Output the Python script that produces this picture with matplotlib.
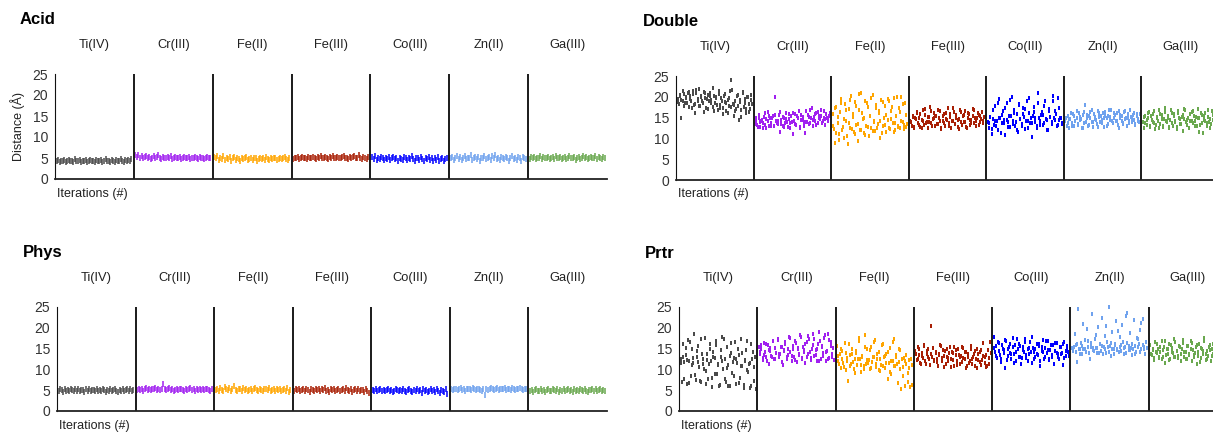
import numpy as np
import matplotlib
matplotlib.use("Agg")
import matplotlib.pyplot as plt
import matplotlib.transforms as mtransforms

plt.rcParams['font.family'] = ['Liberation Sans', 'DejaVu Sans']

metals = ["Ti(IV)", "Cr(III)", "Fe(II)", "Fe(III)", "Co(III)", "Zn(II)", "Ga(III)"]
colors = ["#4a4a4a", "#a020f0", "#ffa500", "#a81f05", "#0000ff", "#6fa2ee", "#6aa84f"]
yticks = [0, 5, 10, 15, 20, 25]

# distance (A) per iteration, one list per metal and environment
acid_ti = [4.3, 4.5, 4.1, 4.4, 4.2, 4.6, 4.0, 4.3, 4.5, 4.2, 4.4, 4.1, 4.7, 4.3, 4.2, 4.5, 4.0, 4.4, 4.3, 4.6, 4.1, 4.2, 4.5, 4.3, 4.4, 4.0, 4.6, 4.2, 4.3, 4.5, 4.1, 4.4, 4.7, 4.2, 4.3, 4.0, 4.5, 4.4, 4.1, 4.6, 4.3, 4.2, 4.8, 4.4, 4.1, 4.5, 4.3, 4.6, 4.2, 4.7]
acid_cr = [5.6, 5.3, 5.8, 5.1, 5.4, 4.9, 5.2, 5.5, 5.0, 5.3, 4.8, 5.1, 5.4, 4.9, 5.2, 5.6, 5.0, 4.7, 5.3, 5.1, 4.9, 5.2, 5.0, 5.4, 4.8, 5.1, 5.3, 4.9, 5.0, 5.2, 4.7, 5.1, 5.3, 4.9, 5.0, 5.2, 4.8, 5.1, 4.9, 5.3, 5.0, 4.8, 5.2, 4.9, 5.1, 4.7, 5.0, 5.2, 4.9, 5.1]
acid_fe2 = [5.3, 4.9, 5.5, 4.6, 5.1, 4.8, 5.4, 4.5, 5.0, 4.7, 5.2, 4.4, 4.9, 5.3, 4.6, 5.0, 4.8, 4.3, 5.1, 4.7, 4.9, 5.2, 4.5, 4.8, 5.0, 4.6, 4.9, 5.1, 4.4, 4.8, 5.0, 4.7, 4.9, 4.5, 5.2, 4.8, 4.6, 5.0, 4.7, 4.9, 5.1, 4.6, 4.8, 5.0, 4.7, 4.9, 5.2, 4.8, 4.6, 5.0]
acid_fe3 = [4.8, 5.1, 4.9, 5.2, 4.7, 5.0, 5.3, 4.9, 5.1, 4.8, 5.2, 5.0, 4.9, 5.3, 5.1, 4.8, 5.2, 5.0, 5.4, 4.9, 5.1, 5.3, 5.0, 4.8, 5.2, 5.1, 5.4, 4.9, 5.0, 5.3, 5.1, 4.9, 5.2, 5.5, 5.0, 5.1, 4.8, 5.3, 5.0, 5.2, 5.4, 4.9, 5.1, 5.6, 5.0, 4.7, 5.2, 5.0, 4.8, 5.3]
acid_co = [5.2, 4.8, 5.4, 4.6, 5.0, 4.7, 5.3, 4.9, 4.5, 5.1, 4.8, 5.2, 4.6, 4.9, 5.3, 4.7, 5.0, 4.4, 5.1, 4.8, 4.6, 5.2, 4.9, 4.5, 5.0, 4.7, 5.4, 4.8, 4.4, 5.1, 4.9, 4.6, 5.3, 4.7, 4.3, 5.0, 4.8, 5.2, 4.5, 4.9, 4.2, 5.1, 4.6, 5.3, 4.4, 4.8, 5.0, 4.3, 4.7, 4.9]
acid_zn = [4.9, 5.3, 4.6, 5.1, 5.5, 4.8, 5.2, 4.5, 5.0, 5.4, 4.7, 5.1, 4.9, 5.6, 4.6, 5.0, 5.3, 4.8, 5.2, 4.4, 5.1, 4.9, 5.5, 4.7, 5.0, 5.2, 4.6, 5.4, 4.9, 5.8, 4.8, 5.1, 4.5, 5.3, 5.0, 4.7, 5.2, 4.9, 4.3, 5.1, 5.4, 4.8, 5.0, 4.6, 5.3, 4.9, 4.4, 5.2, 5.0, 4.7]
acid_ga = [4.8, 5.2, 4.9, 5.3, 4.7, 5.1, 5.0, 5.4, 4.8, 5.2, 4.9, 5.1, 5.3, 4.7, 5.0, 5.2, 4.8, 5.4, 5.1, 4.9, 5.2, 4.7, 5.0, 5.3, 4.8, 5.1, 5.5, 4.9, 5.0, 5.2, 4.6, 5.1, 5.3, 4.8, 5.0, 5.4, 4.9, 5.2, 4.7, 5.1, 5.3, 4.9, 5.0, 5.5, 4.8, 5.2, 5.0, 4.7, 5.3, 5.1]

dbl_ti = [19.5, 18.2, 20.1, 15.0, 19.0, 20.6, 18.5, 19.8, 21.0, 17.6, 20.3, 19.1, 21.5, 18.0, 16.0, 20.8, 19.4, 21.8, 17.8, 20.0, 18.6, 21.2, 19.7, 17.2, 20.5, 18.9, 21.0, 19.3, 17.5, 20.2, 18.4, 19.9, 16.9, 20.7, 18.1, 19.6, 17.4, 20.1, 18.8, 16.5, 19.2, 17.9, 21.3, 24.0, 18.3, 15.5, 19.0, 17.1, 20.4, 14.5, 18.7, 16.8, 21.0, 17.6, 19.5, 16.2, 20.0, 18.2, 17.0, 19.3]
dbl_ti_run2 = [18.8, 20.4, 19.2, 21.4, 17.9, 20.0, 18.6, 21.1, 19.5, 17.3, 20.7, 18.2, 21.6, 19.0, 17.7, 20.3, 18.9, 16.4, 20.9, 19.4, 17.0, 20.1, 18.5, 22.2, 16.7, 19.8, 18.0, 21.5, 17.2, 19.1, 15.8, 20.6, 18.4, 16.1, 19.7, 17.5, 21.7, 18.1, 16.6, 20.2, 17.8, 19.3, 15.2, 21.2, 18.6, 17.0, 19.9, 16.3, 20.5, 18.3]
dbl_cr = [13.5, 14.8, 12.8, 15.6, 13.9, 14.2, 12.6, 15.1, 13.3, 14.6, 16.3, 13.0, 14.9, 13.7, 15.4, 12.9, 20.0, 14.1, 13.4, 15.7, 11.5, 14.4, 13.1, 15.0, 13.8, 16.1, 12.7, 14.7, 13.6, 15.3, 11.0, 14.3, 15.8, 13.2, 14.9, 16.6, 12.8, 14.5, 15.2, 13.9, 11.2, 14.0, 15.6, 13.5, 16.8, 14.8, 12.9, 15.1, 14.2, 16.0, 13.7, 15.5, 14.6, 16.9, 14.1, 15.0, 13.3, 15.9, 14.7, 15.4]
dbl_cr_run2 = [14.1, 13.2, 15.0, 12.7, 14.5, 13.8, 16.0, 12.5, 14.3, 15.4, 13.0, 14.8, 12.9, 15.7, 13.6, 14.2, 16.4, 13.4, 15.1, 12.8, 14.6, 13.9, 15.9, 12.6, 14.0, 16.2, 13.5, 15.3, 14.9, 12.5, 15.6, 14.4, 13.1, 16.5, 14.0, 15.2, 13.7, 17.2, 14.5, 15.8, 13.2, 16.3, 14.9, 15.5, 13.8, 16.7, 14.6, 15.0, 14.2, 16.1]
dbl_fe2 = [15.8, 12.2, 9.0, 17.5, 13.6, 11.0, 16.4, 19.5, 12.8, 10.2, 18.3, 14.1, 8.6, 17.0, 12.4, 20.2, 15.2, 11.6, 18.8, 13.3, 9.4, 16.8, 12.0, 21.0, 14.7, 11.2, 19.0, 13.0, 17.6, 10.6, 15.5, 12.6, 20.4, 14.2, 11.8, 18.1, 13.4, 16.2, 10.0, 19.3, 12.9, 15.0, 17.8, 11.5, 14.4, 18.9, 12.3, 16.6, 13.8, 19.8, 11.9, 15.3, 13.1, 17.2, 12.5, 20.0, 14.0, 13.2, 18.5, 12.7]
dbl_fe2_run2 = [13.0, 17.2, 11.4, 15.1, 9.6, 18.6, 12.1, 14.6, 16.9, 10.5, 13.7, 19.2, 12.2, 15.9, 11.1, 17.7, 13.5, 20.6, 12.0, 16.0, 14.8, 10.9, 18.4, 12.7, 15.4, 19.6, 11.7, 13.9, 17.3, 12.4, 16.5, 14.3, 11.3, 18.7, 13.2, 15.7, 19.4, 12.6, 14.6, 17.5, 11.6, 13.6, 19.9, 12.8, 16.3, 14.1, 18.2, 12.2, 15.6, 13.4]
dbl_fe3 = [14.2, 13.1, 15.5, 12.4, 14.8, 16.2, 13.6, 15.0, 12.8, 14.4, 16.8, 13.3, 15.7, 14.0, 12.5, 15.2, 17.5, 13.8, 14.6, 16.0, 12.9, 15.4, 13.5, 14.9, 16.5, 12.2, 14.1, 15.8, 13.0, 14.7, 17.2, 13.7, 15.1, 12.6, 14.3, 16.3, 13.4, 15.6, 14.5, 12.3, 16.9, 13.9, 15.3, 14.0, 16.6, 12.7, 14.8, 15.9, 13.2, 14.4, 17.0, 13.6, 15.0, 14.2, 16.1, 13.3, 15.5, 14.6, 13.8, 15.2]
dbl_fe3_run2 = [13.9, 15.2, 12.7, 14.6, 16.4, 13.2, 15.8, 12.5, 14.3, 17.0, 13.6, 15.1, 14.0, 16.6, 12.9, 14.8, 15.5, 13.4, 16.9, 14.2, 12.6, 15.3, 13.8, 16.2, 14.5, 13.0, 15.9, 14.1, 17.3, 13.5, 15.0, 12.8, 14.7, 16.4, 13.3, 15.6, 14.0, 12.4, 16.0, 14.4, 13.7, 15.4, 16.8, 13.1, 14.9, 15.7, 13.9, 16.3, 14.3, 15.1]
dbl_co = [14.0, 12.5, 15.2, 11.0, 14.6, 13.3, 17.8, 14.1, 12.0, 19.4, 15.0, 13.6, 16.5, 14.4, 10.8, 18.6, 13.9, 15.5, 12.8, 19.9, 14.2, 16.8, 13.1, 15.8, 11.6, 18.2, 14.7, 13.4, 17.2, 15.1, 12.3, 19.0, 14.3, 16.0, 13.7, 10.3, 15.4, 17.6, 14.0, 12.6, 20.8, 14.9, 13.2, 16.3, 15.6, 13.8, 18.9, 14.5, 12.1, 17.0, 15.2, 13.5, 20.2, 14.8, 16.6, 13.0, 19.6, 14.4, 15.0, 13.6]
dbl_co_run2 = [13.6, 15.1, 12.2, 16.9, 14.3, 13.0, 18.4, 14.8, 11.4, 15.7, 13.8, 17.4, 14.5, 12.7, 19.2, 15.3, 13.4, 16.1, 14.0, 11.9, 18.0, 14.6, 13.1, 15.9, 17.1, 14.2, 12.4, 19.6, 15.0, 13.7, 16.4, 14.9, 12.9, 18.5, 14.1, 15.6, 13.3, 17.9, 14.7, 12.0, 16.7, 15.2, 13.9, 19.1, 14.4, 15.8, 13.2, 17.3, 14.8, 13.5]
dbl_zn = [14.2, 13.0, 15.3, 12.4, 14.7, 13.6, 15.8, 12.9, 14.1, 15.0, 13.3, 16.1, 14.5, 12.6, 15.6, 13.8, 18.0, 14.9, 13.1, 15.4, 16.4, 14.0, 12.8, 15.9, 14.6, 13.5, 16.7, 15.1, 13.9, 14.4, 16.2, 12.7, 15.5, 14.8, 13.4, 16.9, 15.2, 14.3, 13.7, 16.0, 15.7, 14.1, 13.2, 16.5, 14.9, 15.3, 13.6, 16.3, 14.6, 12.9, 15.0, 14.2, 16.8, 13.9, 15.6, 14.4, 13.3, 15.9, 14.7, 14.0]
dbl_zn_run2 = [15.0, 13.8, 14.6, 16.0, 12.9, 15.4, 14.2, 16.6, 13.5, 15.1, 14.7, 12.5, 16.3, 14.0, 15.7, 13.2, 14.9, 16.8, 13.9, 15.2, 14.4, 12.8, 16.1, 15.5, 13.6, 14.8, 16.4, 13.1, 15.3, 14.5, 16.9, 13.7, 15.0, 14.1, 16.2, 12.6, 15.6, 14.3, 13.4, 16.5, 14.9, 15.8, 13.8, 15.1, 14.6, 16.0, 13.5, 15.4, 14.2, 15.9]
dbl_ga = [14.0, 12.6, 15.4, 13.2, 14.8, 16.3, 12.9, 14.5, 15.9, 13.6, 12.2, 15.1, 14.2, 16.8, 13.4, 15.6, 12.8, 14.7, 17.2, 13.9, 15.3, 12.5, 14.4, 16.1, 13.1, 15.8, 14.0, 12.7, 16.5, 14.9, 13.5, 15.2, 11.8, 14.6, 16.9, 13.3, 15.0, 12.4, 14.3, 16.4, 13.8, 15.5, 14.1, 12.9, 17.0, 14.8, 13.2, 15.7, 11.4, 14.5, 16.0, 13.6, 15.2, 14.0, 12.6, 16.6, 14.4, 13.7, 15.4, 14.9]
dbl_ga_run2 = [15.2, 13.7, 14.4, 16.1, 12.8, 15.5, 14.0, 16.7, 13.3, 14.9, 12.4, 15.8, 14.6, 13.1, 16.4, 14.2, 15.0, 12.7, 16.9, 13.8, 15.3, 14.1, 12.3, 16.2, 14.7, 13.5, 15.6, 17.1, 13.9, 14.5, 12.6, 15.9, 14.3, 16.6, 13.0, 15.1, 14.8, 11.6, 16.0, 13.6, 15.4, 14.2, 12.9, 16.8, 14.6, 13.4, 15.7, 14.0, 16.3, 13.8]

phys_ti = [4.8, 5.2, 5.0, 4.6, 5.3, 4.9, 5.1, 4.7, 5.4, 5.0, 4.8, 5.2, 4.9, 5.3, 4.7, 5.0, 5.1, 4.6, 5.2, 4.9, 5.4, 4.8, 5.0, 5.1, 4.7, 5.3, 4.9, 5.0, 4.8, 5.2, 5.0, 4.6, 5.1, 4.9, 5.3, 4.7, 5.0, 5.2, 4.8, 4.6, 5.1, 4.9, 5.3, 4.7, 5.0, 5.2, 4.8, 5.4, 4.9, 5.1]
phys_cr = [5.0, 5.3, 5.1, 5.4, 4.9, 5.2, 5.5, 5.1, 5.3, 5.0, 5.2, 5.4, 5.6, 5.1, 5.3, 5.0, 5.2, 6.4, 5.4, 5.1, 5.3, 5.5, 5.0, 5.2, 4.9, 5.1, 5.3, 5.0, 5.2, 5.4, 5.1, 4.8, 5.3, 5.0, 5.2, 5.5, 5.1, 5.3, 4.9, 5.2, 5.0, 5.4, 5.1, 5.3, 5.0, 5.2, 5.4, 5.1, 4.9, 5.2]
phys_fe2 = [5.0, 5.4, 4.7, 5.6, 5.1, 4.9, 5.8, 5.3, 5.0, 5.5, 4.8, 5.2, 6.0, 5.1, 4.9, 5.4, 5.2, 4.7, 5.5, 5.0, 5.3, 4.8, 5.1, 5.4, 4.9, 5.2, 5.6, 5.0, 4.8, 5.3, 5.1, 4.9, 5.4, 5.2, 5.0, 5.5, 4.8, 5.1, 5.3, 4.9, 5.2, 5.0, 5.4, 4.7, 5.1, 5.3, 4.9, 5.5, 4.6, 5.0]
phys_fe3 = [4.9, 5.2, 5.0, 5.3, 4.8, 5.1, 5.4, 4.9, 5.2, 5.0, 4.6, 5.3, 5.1, 4.8, 5.4, 5.0, 5.2, 4.7, 5.3, 5.0, 5.5, 4.9, 5.1, 4.6, 5.2, 5.0, 5.4, 4.8, 5.1, 5.3, 4.7, 5.0, 5.2, 4.9, 5.5, 5.1, 4.8, 5.3, 4.6, 5.0, 5.2, 4.9, 5.4, 4.7, 5.1, 5.0, 4.5, 5.3, 4.8, 4.4]
phys_co = [5.1, 4.9, 5.2, 4.8, 5.0, 5.3, 4.9, 5.1, 4.7, 5.0, 5.2, 4.8, 5.1, 4.6, 4.9, 5.2, 5.0, 4.8, 5.1, 4.7, 5.3, 4.9, 4.6, 5.0, 5.2, 4.8, 4.5, 5.1, 4.9, 5.3, 4.7, 5.0, 4.4, 5.2, 4.8, 5.1, 4.6, 4.9, 5.3, 4.7, 5.0, 4.5, 5.2, 4.8, 4.3, 5.1, 4.9, 4.6, 5.2, 4.2]
phys_zn = [5.3, 5.1, 5.4, 5.2, 5.0, 5.3, 5.5, 5.1, 5.2, 4.9, 5.4, 5.2, 5.3, 5.0, 5.5, 5.2, 5.1, 5.4, 5.3, 5.0, 4.9, 5.2, 3.9, 5.3, 5.1, 5.4, 5.6, 5.2, 5.0, 5.3, 5.5, 5.1, 5.4, 5.2, 5.3, 5.6, 5.1, 5.4, 5.2, 5.0, 5.5, 5.3, 5.1, 5.4, 5.2, 5.6, 5.3, 5.1, 5.4, 5.2]
phys_ga = [4.8, 5.1, 4.6, 5.0, 5.2, 4.7, 4.9, 5.3, 4.8, 5.1, 4.5, 5.0, 5.2, 4.9, 4.7, 5.3, 5.0, 4.8, 5.2, 4.6, 5.1, 4.9, 5.4, 4.7, 5.0, 5.2, 4.8, 5.1, 4.6, 5.3, 4.9, 5.0, 4.7, 5.2, 5.1, 4.8, 5.4, 4.9, 4.6, 5.1, 5.0, 5.3, 4.7, 5.2, 4.9, 5.0, 5.4, 4.8, 5.1, 4.9]

prt_ti = [12.5, 7.0, 16.2, 11.8, 13.4, 6.6, 17.0, 12.0, 8.3, 14.8, 11.5, 18.4, 7.4, 12.9, 15.6, 10.6, 6.9, 13.8, 11.2, 17.6, 9.5, 12.3, 7.8, 15.0, 11.9, 5.8, 14.2, 12.7, 16.8, 8.8, 11.4, 6.2, 13.1, 17.9, 10.2, 12.4, 7.0, 15.4, 11.0, 5.9, 14.0, 9.2, 12.8, 16.5, 6.5, 11.6, 13.5, 8.0, 17.2, 10.8, 6.3, 12.2, 14.6, 9.8, 11.3, 5.5, 16.0, 12.6, 7.2, 13.0]
prt_ti_run2 = [11.6, 13.0, 7.6, 15.2, 12.2, 6.8, 16.6, 11.0, 12.8, 8.6, 14.4, 11.8, 7.2, 17.4, 12.5, 10.0, 6.4, 13.6, 11.4, 16.0, 8.0, 12.9, 9.0, 15.8, 11.1, 6.0, 14.6, 12.1, 17.3, 7.8, 10.4, 5.9, 13.3, 16.4, 11.7, 8.4, 12.6, 15.0, 6.7, 10.9, 13.9, 5.6, 12.0, 16.8, 9.4, 11.5, 6.1, 14.2, 10.6, 5.2]
prt_cr = [15.5, 13.6, 14.8, 12.2, 16.4, 14.1, 13.0, 15.9, 11.4, 14.5, 13.3, 16.8, 12.6, 15.1, 14.0, 17.4, 12.9, 13.8, 15.4, 11.0, 14.6, 16.2, 12.4, 13.5, 17.8, 14.3, 12.0, 15.7, 13.1, 16.9, 11.8, 14.9, 13.4, 18.2, 12.7, 15.3, 14.2, 11.6, 16.5, 13.7, 17.2, 12.3, 15.0, 18.6, 13.2, 14.7, 11.9, 16.0, 18.9, 12.5, 15.6, 13.9, 17.6, 12.1, 14.4, 18.4, 12.8, 16.7, 13.0, 15.2]
prt_cr_run2 = [14.2, 15.8, 12.8, 13.5, 16.1, 12.0, 14.7, 15.2, 13.1, 16.9, 12.5, 14.0, 17.1, 13.6, 15.5, 11.7, 14.4, 16.6, 12.9, 15.0, 17.5, 13.3, 14.8, 12.2, 16.3, 15.1, 13.8, 17.9, 12.4, 14.6, 16.0, 13.0, 18.0, 14.3, 12.7, 15.9, 17.2, 13.4, 14.9, 12.1, 16.8, 15.4, 13.2, 18.3, 14.1, 12.6, 17.0, 15.7, 13.6, 12.3]
prt_fe2 = [15.6, 12.0, 13.8, 10.4, 14.5, 11.6, 16.4, 9.8, 12.8, 7.2, 13.5, 11.2, 15.0, 10.0, 12.4, 14.0, 11.0, 16.9, 12.6, 9.4, 13.2, 10.8, 18.2, 11.4, 14.8, 12.2, 10.2, 15.5, 11.8, 13.0, 17.0, 10.6, 12.5, 14.2, 9.6, 11.1, 16.2, 12.9, 10.3, 13.6, 7.6, 11.5, 15.2, 9.0, 12.1, 17.2, 10.9, 13.4, 6.8, 11.7, 14.6, 5.4, 10.5, 12.7, 6.0, 11.3, 9.2, 12.3, 5.8, 11.0]
prt_fe2_run2 = [13.2, 11.4, 15.0, 12.6, 10.6, 14.0, 12.0, 16.2, 10.9, 13.7, 11.8, 9.2, 14.4, 12.4, 17.6, 11.0, 13.1, 10.1, 15.4, 12.2, 11.5, 14.7, 10.4, 12.9, 16.5, 11.2, 13.8, 9.9, 12.5, 15.8, 10.8, 13.3, 11.6, 14.1, 9.4, 12.1, 16.6, 10.7, 13.0, 11.3, 14.9, 10.0, 12.6, 8.4, 11.9, 13.5, 7.0, 10.3, 12.4, 6.2]
prt_fe3 = [14.5, 12.2, 15.3, 13.4, 11.6, 14.0, 12.8, 15.8, 11.2, 13.6, 14.8, 12.4, 20.5, 13.0, 15.1, 11.9, 14.3, 12.6, 10.8, 13.8, 15.6, 12.1, 14.6, 13.2, 11.4, 15.0, 12.7, 13.9, 10.5, 14.2, 12.3, 15.5, 13.5, 11.0, 14.9, 12.9, 13.3, 11.7, 15.2, 12.5, 14.1, 10.7, 13.7, 12.0, 15.7, 11.3, 13.1, 14.4, 12.6, 10.4, 13.6, 11.8, 14.7, 12.2, 16.3, 11.5, 13.4, 10.9, 12.8, 16.5]
prt_fe3_run2 = [13.8, 12.5, 14.9, 11.4, 13.2, 15.6, 12.0, 14.4, 12.9, 11.1, 13.6, 15.1, 12.3, 14.0, 11.7, 13.4, 15.9, 12.7, 10.6, 14.5, 13.1, 11.9, 15.3, 12.4, 13.9, 10.9, 14.7, 12.1, 13.5, 11.3, 15.4, 12.8, 14.2, 10.3, 13.0, 11.6, 14.8, 12.6, 13.7, 10.8, 15.0, 12.2, 14.3, 11.0, 13.3, 12.9, 10.5, 14.6, 11.4, 13.9]
prt_co = [17.8, 14.2, 15.6, 12.8, 16.4, 13.5, 11.8, 15.0, 14.6, 10.4, 16.9, 13.2, 15.3, 14.0, 12.4, 17.6, 13.8, 15.8, 12.1, 14.8, 16.2, 13.0, 11.2, 15.4, 14.3, 17.2, 12.7, 14.9, 13.6, 16.6, 11.6, 15.2, 14.1, 12.9, 16.0, 13.4, 15.7, 10.8, 14.5, 17.0, 12.5, 15.1, 13.9, 16.8, 12.2, 14.7, 13.1, 15.9, 11.4, 14.4, 16.3, 13.7, 12.6, 15.5, 14.0, 11.0, 16.5, 13.3, 15.0, 14.2]
prt_co_run2 = [15.1, 13.3, 16.7, 14.4, 12.5, 15.9, 13.9, 17.1, 12.2, 14.8, 16.2, 13.6, 15.4, 11.5, 14.1, 17.4, 13.0, 15.7, 12.8, 14.6, 16.5, 13.4, 11.9, 15.2, 14.3, 17.7, 12.6, 14.9, 13.7, 16.1, 12.0, 15.5, 14.2, 13.1, 16.9, 14.7, 12.4, 15.8, 13.5, 11.3, 16.4, 14.0, 12.9, 15.3, 13.8, 16.0, 12.7, 14.5, 15.6, 13.2]
prt_zn = [15.2, 14.4, 18.5, 15.8, 11.8, 24.5, 14.9, 16.3, 13.6, 21.0, 15.0, 14.2, 19.6, 16.8, 12.6, 15.5, 23.2, 14.7, 17.4, 15.1, 13.9, 20.2, 16.0, 14.5, 22.4, 15.4, 18.0, 14.0, 16.6, 25.0, 15.7, 13.3, 19.0, 14.8, 16.2, 21.6, 15.0, 14.3, 17.8, 15.9, 20.6, 13.8, 15.3, 22.8, 16.4, 14.6, 18.8, 15.2, 13.5, 21.9, 15.6, 14.1, 17.2, 16.1, 19.4, 14.9, 22.0, 15.4, 13.7, 16.7]
prt_zn_run2 = [14.6, 15.3, 14.1, 16.1, 15.0, 13.6, 15.7, 14.8, 17.0, 14.3, 15.5, 13.9, 16.4, 15.1, 14.5, 18.2, 15.2, 14.0, 16.0, 15.6, 13.7, 14.9, 20.4, 15.4, 14.2, 16.3, 15.0, 13.8, 15.8, 14.6, 19.2, 15.3, 14.4, 16.6, 15.1, 14.0, 23.6, 15.6, 14.7, 16.2, 15.0, 13.6, 17.6, 15.4, 14.3, 21.2, 15.9, 14.8, 16.5, 15.2]
prt_ga = [15.8, 13.4, 14.6, 12.2, 16.5, 13.9, 15.0, 12.7, 14.2, 16.9, 13.1, 15.4, 11.6, 14.8, 13.6, 16.1, 12.4, 15.2, 14.0, 17.3, 12.9, 14.5, 13.3, 15.7, 11.9, 14.9, 16.4, 13.0, 14.3, 12.6, 15.6, 13.8, 16.8, 12.1, 14.7, 13.5, 15.3, 11.3, 14.1, 16.2, 12.8, 15.0, 13.7, 17.6, 12.3, 14.4, 13.2, 15.9, 12.0, 14.8, 13.6, 16.6, 12.5, 15.1, 14.0, 13.0, 15.5, 12.7, 14.6, 13.9]
prt_ga_run2 = [13.6, 15.0, 12.8, 14.3, 16.2, 13.1, 15.5, 12.5, 14.7, 16.8, 13.4, 14.9, 12.2, 15.8, 14.1, 13.0, 16.5, 14.5, 12.7, 15.3, 13.8, 17.0, 14.2, 12.4, 15.7, 13.5, 14.8, 16.4, 12.9, 14.0, 15.9, 13.3, 11.8, 15.1, 14.4, 16.9, 13.7, 12.6, 15.4, 14.6, 13.2, 16.0, 12.8, 14.9, 15.6, 13.9, 12.3, 15.2, 14.3, 13.5]

# runs per metal, in the order of `metals`
acid = [[acid_ti], [acid_cr], [acid_fe2], [acid_fe3], [acid_co], [acid_zn], [acid_ga]]
double = [[dbl_ti, dbl_ti_run2], [dbl_cr, dbl_cr_run2], [dbl_fe2, dbl_fe2_run2],
          [dbl_fe3, dbl_fe3_run2], [dbl_co, dbl_co_run2], [dbl_zn, dbl_zn_run2],
          [dbl_ga, dbl_ga_run2]]
phys = [[phys_ti], [phys_cr], [phys_fe2], [phys_fe3], [phys_co], [phys_zn], [phys_ga]]
prtr = [[prt_ti, prt_ti_run2], [prt_cr, prt_cr_run2], [prt_fe2, prt_fe2_run2],
        [prt_fe3, prt_fe3_run2], [prt_co, prt_co_run2], [prt_zn, prt_zn_run2],
        [prt_ga, prt_ga_run2]]

# small upright rectangle used for the sparse scatter points
dash = [(-0.6, -1), (0.6, -1), (0.6, 1), (-0.6, 1), (-0.6, -1)]

W, H = 1213, 432
fig = plt.figure(figsize=(W / 100, H / 100), dpi=100)


def px_axes(left, top, width, bottom):
    # pixel box -> figure fraction
    return fig.add_axes([left / W, 1 - bottom / H, width / W, (bottom - top) / H])


def draw_panel(box, name, name_xy, it_xy, series, dense):
    ax = px_axes(*box)
    for i, runs in enumerate(series):
        for k, vals in enumerate(runs):
            # second run is offset by half a step so both fill the column
            shift = 0.5 / len(vals) * k
            x = i + shift + np.linspace(0.02, 0.97, len(vals))
            if dense:
                ax.plot(x, vals, ls="none", marker="|", ms=4.5, mew=1.1,
                        color=colors[i], clip_on=False)
            else:
                ax.plot(x, vals, ls="none", marker=dash, ms=2.7, mew=0,
                        color=colors[i], clip_on=False)
    ax.set_xlim(0, 7)
    ax.set_ylim(0, 25)
    ax.vlines(range(1, 7), 0, 25, color="#1a1a1a", lw=1.4)
    for s in ("top", "right"):
        ax.spines[s].set_visible(False)
    ax.spines["left"].set_color("#111111")
    ax.spines["bottom"].set_color("#222222")
    ax.spines["bottom"].set_linewidth(1.3)
    ax.set_xticks([])
    ax.set_yticks(yticks)
    ax.tick_params(axis="y", length=0, pad=5, labelsize=10, labelcolor="#333333")
    trans = mtransforms.blended_transform_factory(ax.transData, ax.transAxes)
    for i, m in enumerate(metals):
        ax.text(i + 0.5, 1.275, m, transform=trans, ha="center", va="center",
                fontsize=9.3, color="#222222")
    fig.text(name_xy[0] / W, 1 - name_xy[1] / H, name, fontsize=12,
             fontweight="bold", ha="left", va="center")
    fig.text(it_xy[0] / W, 1 - it_xy[1] / H, "Iterations (#)", fontsize=9,
             ha="left", va="center", color="#222222")
    return ax


draw_panel((55, 74, 552, 179), "Acid", (20, 20), (57, 194), acid, True)
draw_panel((676, 76, 543, 180), "Double", (643, 22), (678, 194), double, False)
draw_panel((57, 307, 550, 411), "Phys", (23, 253), (59, 426), phys, True)
draw_panel((679, 307, 548, 411), "Prtr", (645, 253), (681, 426), prtr, False)

fig.text(18 / W, 1 - 127 / H, "Distance (Å)", rotation=90, fontsize=9,
         ha="center", va="center", color="#222222")

fig.savefig("out.png", dpi=100)
